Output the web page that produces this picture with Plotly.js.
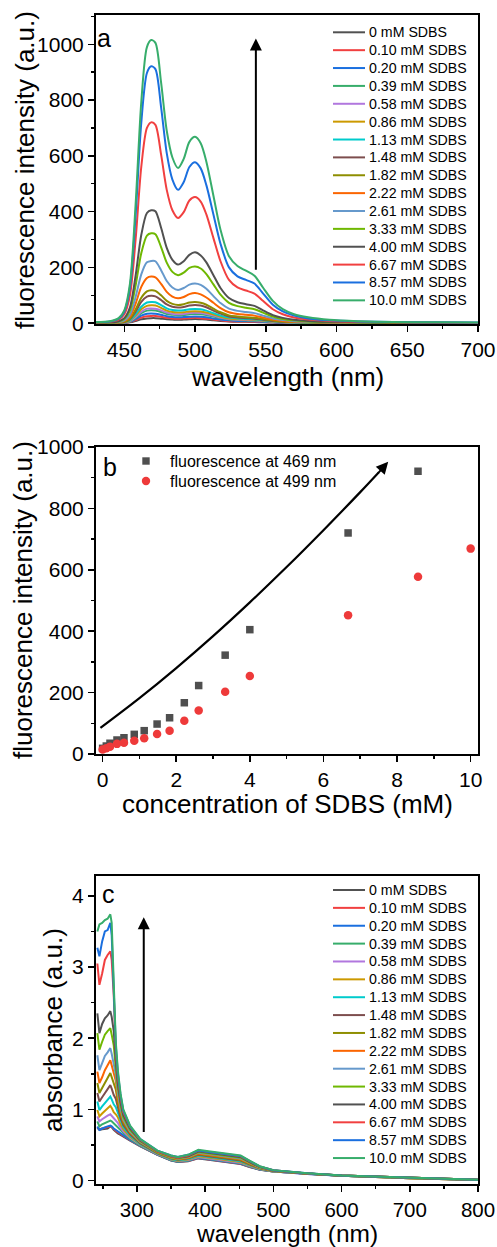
<!DOCTYPE html>
<html><head><meta charset="utf-8">
<script src="https://cdn.plot.ly/plotly-3.0.1.min.js"></script>
<style>html,body{margin:0;padding:0;background:#fff}#chart{width:497px;height:1247px}</style>
</head><body><div id="chart"></div>
<script>
// ---------- shared series metadata ----------
const seriesLabels = ["0 mM SDBS","0.10 mM SDBS","0.20 mM SDBS","0.39 mM SDBS","0.58 mM SDBS","0.86 mM SDBS","1.13 mM SDBS","1.48 mM SDBS","1.82 mM SDBS","2.22 mM SDBS","2.61 mM SDBS","3.33 mM SDBS","4.00 mM SDBS","6.67 mM SDBS","8.57 mM SDBS","10.0 mM SDBS"];
const seriesColors = ["#515151","#F14040","#1A6FDF","#37AD6B","#B177DE","#CC9900","#00CBCC","#7D4E4E","#8E8E00","#FB6501","#6699CC","#6FB802","#515151","#F14040","#1A6FDF","#37AD6B"];

// ---------- panel a: fluorescence spectra ----------
const flWavelength = [430,440,446,450,454,458,462,466,469,472,476,480,484,488,492,496,500,504,508,513,518,524,530,536,542,548,555,562,570,580,595,615,640,670,700];
const fl_000 = [0,0,0,1,3,8,14,17,18,18,16,14,13,12,13,14,15,14,13,10,8,6,5,5,4,3,2,1,1,1,0,0,0,0,0];
const fl_010 = [0,0,1,1,4,11,20,25,26,26,23,19,17,16,17,18,19,18,16,13,10,7,6,6,5,4,3,2,1,1,0,0,0,0,0];
const fl_020 = [0,0,1,2,5,15,27,34,35,34,30,25,22,21,22,23,24,23,21,17,13,10,8,8,7,5,3,2,2,1,1,0,0,0,0];
const fl_039 = [0,1,1,2,6,19,36,45,46,45,40,33,30,28,29,32,33,32,29,24,18,13,11,10,9,7,5,3,2,1,1,0,0,0,0];
const fl_058 = [0,1,1,2,7,22,41,52,53,52,46,38,34,32,33,36,37,36,33,27,20,15,12,11,10,8,5,3,2,2,1,1,0,0,0];
const fl_086 = [1,1,1,3,9,27,50,62,64,63,55,45,40,38,39,42,43,42,38,31,23,17,14,13,12,9,6,4,3,2,1,1,0,0,0];
const fl_113 = [1,1,2,4,11,32,59,74,76,75,65,53,47,45,46,50,51,50,45,36,27,20,17,15,14,10,7,5,3,2,1,1,0,0,0];
const fl_148 = [1,1,2,4,14,41,76,95,98,96,83,67,59,56,58,63,65,63,57,45,34,24,20,18,16,12,8,5,4,3,2,1,1,0,0];
const fl_182 = [1,1,2,5,16,49,91,114,118,116,100,80,69,65,68,74,76,73,66,52,39,28,24,21,19,15,10,6,4,3,2,1,1,0,0];
const fl_222 = [1,1,3,8,23,70,130,162,167,164,141,112,95,89,94,104,108,103,92,73,54,39,33,30,27,20,13,8,5,4,2,1,1,1,0];
const fl_261 = [1,2,4,10,31,94,175,218,223,222,190,151,128,119,126,138,142,137,123,97,72,52,44,40,36,27,17,11,7,5,3,2,1,1,1];
const fl_333 = [2,2,6,15,45,135,251,314,322,319,273,217,184,172,181,198,203,196,176,139,102,73,61,55,50,38,24,15,10,6,4,2,1,1,1];
const fl_400 = [2,3,7,18,57,170,316,395,405,401,342,270,227,210,222,245,254,243,218,172,126,90,75,68,62,46,29,19,12,8,5,3,2,1,1];
const fl_667 = [3,5,13,32,100,300,560,700,720,711,605,478,405,377,398,440,452,436,390,305,222,155,128,117,106,80,50,32,20,13,8,5,3,2,1];
const fl_857 = [4,6,16,41,129,386,718,897,921,911,775,610,515,478,506,560,577,555,495,390,285,200,168,155,142,107,66,42,27,17,10,6,4,3,2];
const fl_100 = [4,7,18,46,142,426,792,990,1015,1005,863,690,594,556,589,650,668,645,579,457,335,240,205,188,170,128,80,50,32,21,12,7,4,3,2];
const flSeries = [fl_000,fl_010,fl_020,fl_039,fl_058,fl_086,fl_113,fl_148,fl_182,fl_222,fl_261,fl_333,fl_400,fl_667,fl_857,fl_100];

// ---------- panel b: peak intensities vs concentration ----------
const concentration = [0,0.10,0.20,0.39,0.58,0.86,1.13,1.48,1.82,2.22,2.61,3.33,4.00,6.67,8.57,10.0];
const fluor469 = [18.5,26,35,45.6,53,64,76,97.6,118,167,223,322,405,720,921,null];
const fluor499 = [15,19,24,33,37,43,51,65,76,108,142,203,254,452,577,669];
const bLegendLabels = ["fluorescence at 469 nm","fluorescence at 499 nm"];
const arrowB_x = [-0.06,1,2,3,4,5,6,7,7.5];
const arrowB_y = [85,182,280,384,494,609,729,853,917];

// ---------- panel c: absorbance spectra ----------
const abWavelength = [242,245,249,253,257,261,263,266,269,272,276,280,290,305,330,350,360,375,390,405,420,440,452,465,480,500,550,600,700,800];
const ab_000 = [0.74,0.71,0.72,0.73,0.73,0.76,0.75,0.71,0.68,0.66,0.64,0.62,0.56,0.48,0.36,0.28,0.26,0.27,0.31,0.29,0.27,0.25,0.23,0.19,0.15,0.125,0.09,0.065,0.03,0.005];
const ab_010 = [0.75,0.72,0.73,0.74,0.75,0.76,0.75,0.72,0.70,0.68,0.65,0.63,0.566,0.483,0.362,0.282,0.262,0.273,0.314,0.294,0.274,0.254,0.234,0.193,0.152,0.125,0.09,0.065,0.03,0.005];
const ab_020 = [0.76,0.71,0.73,0.75,0.76,0.77,0.76,0.73,0.71,0.69,0.67,0.64,0.57,0.486,0.364,0.284,0.264,0.275,0.317,0.297,0.277,0.257,0.237,0.195,0.153,0.126,0.09,0.065,0.03,0.005];
const ab_039 = [0.83,0.76,0.79,0.81,0.82,0.84,0.83,0.80,0.77,0.74,0.70,0.67,0.585,0.49,0.367,0.288,0.268,0.281,0.324,0.304,0.284,0.264,0.244,0.20,0.156,0.127,0.091,0.065,0.031,0.006];
const ab_058 = [0.90,0.83,0.86,0.89,0.91,0.93,0.91,0.87,0.84,0.81,0.74,0.69,0.60,0.50,0.37,0.293,0.273,0.286,0.33,0.31,0.29,0.27,0.25,0.206,0.159,0.129,0.092,0.066,0.031,0.006];
const ab_086 = [0.99,0.90,0.94,0.98,1.01,1.05,1.02,0.96,0.93,0.89,0.79,0.72,0.615,0.506,0.376,0.298,0.278,0.293,0.34,0.32,0.30,0.28,0.26,0.213,0.163,0.13,0.093,0.066,0.031,0.006];
const ab_113 = [1.11,0.99,1.04,1.09,1.13,1.18,1.14,1.07,1.03,0.96,0.84,0.75,0.63,0.51,0.38,0.30,0.284,0.30,0.35,0.33,0.31,0.29,0.27,0.22,0.167,0.132,0.093,0.067,0.032,0.007];
const ab_148 = [1.23,1.11,1.17,1.23,1.28,1.34,1.29,1.20,1.15,1.03,0.88,0.78,0.65,0.52,0.385,0.31,0.29,0.31,0.36,0.34,0.32,0.30,0.28,0.228,0.171,0.133,0.094,0.067,0.032,0.007];
const ab_182 = [1.37,1.23,1.30,1.38,1.44,1.51,1.45,1.35,1.28,1.10,0.93,0.81,0.67,0.53,0.39,0.315,0.295,0.315,0.37,0.35,0.33,0.31,0.29,0.235,0.175,0.135,0.095,0.068,0.033,0.008];
const ab_222 = [1.53,1.37,1.45,1.55,1.62,1.69,1.62,1.50,1.40,1.17,0.97,0.84,0.68,0.537,0.394,0.32,0.30,0.32,0.38,0.36,0.34,0.32,0.30,0.24,0.178,0.136,0.096,0.068,0.033,0.008];
const ab_261 = [1.76,1.55,1.65,1.75,1.80,1.86,1.78,1.65,1.49,1.23,1.01,0.86,0.69,0.54,0.40,0.325,0.305,0.33,0.39,0.37,0.35,0.33,0.31,0.25,0.182,0.138,0.096,0.068,0.033,0.008];
const ab_333 = [2.07,1.84,1.95,2.05,2.10,2.14,2.05,1.90,1.59,1.30,1.06,0.89,0.71,0.55,0.40,0.33,0.31,0.335,0.40,0.38,0.36,0.34,0.32,0.255,0.186,0.139,0.097,0.069,0.034,0.009];
const ab_400 = [2.35,2.07,2.20,2.28,2.32,2.38,2.30,2.10,1.70,1.37,1.10,0.92,0.73,0.56,0.41,0.34,0.32,0.34,0.41,0.39,0.37,0.35,0.33,0.26,0.19,0.141,0.098,0.069,0.034,0.009];
const ab_667 = [3.05,2.75,2.91,3.10,3.17,3.22,3.10,2.60,1.82,1.46,1.16,0.96,0.75,0.57,0.41,0.34,0.32,0.35,0.42,0.40,0.38,0.36,0.34,0.27,0.195,0.143,0.099,0.07,0.035,0.01];
const ab_857 = [3.27,3.15,3.36,3.50,3.52,3.62,3.45,2.75,1.90,1.51,1.20,0.985,0.76,0.58,0.42,0.35,0.33,0.36,0.42,0.40,0.385,0.365,0.345,0.276,0.198,0.144,0.10,0.07,0.035,0.01];
const ab_100 = [3.50,3.60,3.62,3.66,3.68,3.74,3.62,2.80,1.95,1.55,1.22,1.00,0.77,0.58,0.42,0.35,0.33,0.36,0.43,0.41,0.39,0.37,0.35,0.28,0.20,0.145,0.10,0.07,0.035,0.01];
const abSeries = [ab_000,ab_010,ab_020,ab_039,ab_058,ab_086,ab_113,ab_148,ab_182,ab_222,ab_261,ab_333,ab_400,ab_667,ab_857,ab_100];

// ---------- layout helpers ----------
const W = 497, H = 1247;
const FONT = "Liberation Sans, Arial, Helvetica, sans-serif";
const px = v => v / W;
const py = v => 1 - v / H;

const traces = [];
flSeries.forEach((ys, i) => traces.push({
  type: "scatter", mode: "lines", x: flWavelength, y: ys, xaxis: "x", yaxis: "y",
  line: {color: seriesColors[i], width: 2, shape: "spline", smoothing: 0.8},
  showlegend: false, hoverinfo: "skip"
}));
traces.push({type:"scatter", mode:"markers", x: concentration, y: fluor469, xaxis:"x2", yaxis:"y2",
  marker:{symbol:"square", size:7.5, color:"#4F4F4F"}, showlegend:false, hoverinfo:"skip"});
traces.push({type:"scatter", mode:"markers", x: concentration, y: fluor499, xaxis:"x2", yaxis:"y2",
  marker:{symbol:"circle", size:8.5, color:"#EE3A3A"}, showlegend:false, hoverinfo:"skip"});
traces.push({type:"scatter", mode:"lines", x: arrowB_x, y: arrowB_y, xaxis:"x2", yaxis:"y2",
  line:{color:"#000", width:2.2, shape:"spline", smoothing: 1}, showlegend:false, hoverinfo:"skip"});
abSeries.forEach((ys, i) => traces.push({
  type: "scatter", mode: "lines", x: abWavelength, y: ys, xaxis: "x3", yaxis: "y3",
  line: {color: seriesColors[i], width: 2}, showlegend: false, hoverinfo: "skip"
}));

function axis(domain, range, dtick, minorDtick, anchor, tickvals, fsize) {
  const a = {
    domain: domain, range: range, anchor: anchor, showline: true, linecolor: "#000", linewidth: 2,
    mirror: true, ticks: "outside", ticklen: 6, tickwidth: 1.5, tickcolor: "#000",
    showgrid: false, zeroline: false, tickfont: {family: FONT, size: fsize || 21, color: "#000"},
    dtick: dtick, tick0: 0,
    minor: {ticks: "outside", ticklen: 3, tickwidth: 1.5, tickcolor: "#000", dtick: minorDtick, showgrid: false}
  };
  if (tickvals) { a.tickmode = "array"; a.tickvals = tickvals; }
  return a;
}

const xDom = [px(96), px(478)];
const layout = {
  width: W, height: H, margin: {l: 0, r: 0, t: 0, b: 0},
  paper_bgcolor: "#fff", plot_bgcolor: "#fff", showlegend: false,
  font: {family: FONT, color: "#000"},
  xaxis: axis(xDom, [430, 700], 50, 25, "y", [450,500,550,600,650,700]),
  yaxis: axis([py(324), py(15)], [-3, 1105], 200, 100, "x", [0,200,400,600,800,1000]),
  xaxis2: axis(xDom, [-0.18, 10.2], 2, 1, "y2"),
  yaxis2: axis([py(754), py(447)], [0, 1000], 200, 100, "x2"),
  xaxis3: axis(xDom, [240, 800], 100, 50, "y3", [300,400,500,600,700,800], 20.5),
  yaxis3: axis([py(1184), py(876)], [-0.05, 4.28], 1, 0.5, "x3", [0,1,2,3,4]),
  annotations: [], shapes: []
};
layout.xaxis.minor.tick0 = 0; layout.xaxis3.minor.tick0 = 0;

const ann = layout.annotations, shp = layout.shapes;
function text(t, x, y, size, opts) {
  ann.push(Object.assign({text: t, xref: "paper", yref: "paper", x: px(x), y: py(y), showarrow: false,
    font: {family: FONT, size: size, color: "#000"}, xanchor: "center", yanchor: "middle", borderpad: 0}, opts || {}));
}
// axis titles
text("fluorescence intensity (a.u.)", 25, 170, 26, {textangle: -90});
text("wavelength (nm)", 287, 377, 26);
text("fluorescence intensity (a.u.)", 23, 600, 26, {textangle: -90});
text("concentration of SDBS (mM)", 287, 804, 26);
text("absorbance (a.u.)", 53, 1030, 26, {textangle: -90});
text("wavelength (nm)", 287, 1233, 24.5);
// panel letters
text("a", 104, 38, 25);
text("b", 110, 467, 25);
text("c", 108, 894, 25);

// legends for panels a and c
function lineLegend(top) {
  seriesLabels.forEach((lab, i) => {
    const yy = top + i * 17.87;
    shp.push({type: "line", xref: "paper", yref: "paper", x0: px(333), x1: px(365), y0: py(yy), y1: py(yy),
      line: {color: seriesColors[i], width: 2}});
    text(lab, 368, yy, 14.2, {xanchor: "left"});
  });
}
lineLegend(32.3);
lineLegend(890);

// panel b legend
shp.push({type: "rect", xref: "paper", yref: "paper", x0: px(142.3), x1: px(149.7), y0: py(464.7), y1: py(457.3),
  fillcolor: "#4F4F4F", line: {width: 0}});
shp.push({type: "circle", xref: "paper", yref: "paper", x0: px(141.8), x1: px(150.2), y0: py(485.2), y1: py(476.8),
  fillcolor: "#EE3A3A", line: {width: 0}});
text(bLegendLabels[0], 169, 461, 16, {xanchor: "left"});
text(bLegendLabels[1], 169, 481, 16, {xanchor: "left"});

// arrows
ann.push({xref: "x", yref: "y", axref: "x", ayref: "y", x: 543, y: 1021, ax: 543, ay: 186, text: "",
  showarrow: true, arrowhead: 2, arrowsize: 1.2, arrowwidth: 2, arrowcolor: "#000"});
ann.push({xref: "x2", yref: "y2", axref: "x2", ayref: "y2", x: 7.76, y: 952, ax: 7.45, ay: 910, text: "",
  showarrow: true, arrowhead: 2, arrowsize: 1.2, arrowwidth: 2, arrowcolor: "#000"});
ann.push({xref: "x3", yref: "y3", axref: "x3", ayref: "y3", x: 310, y: 3.7, ax: 310, ay: 0.66, text: "",
  showarrow: true, arrowhead: 2, arrowsize: 1.2, arrowwidth: 2, arrowcolor: "#000"});

Plotly.newPlot("chart", traces, layout, {staticPlot: true});
</script></body></html>
